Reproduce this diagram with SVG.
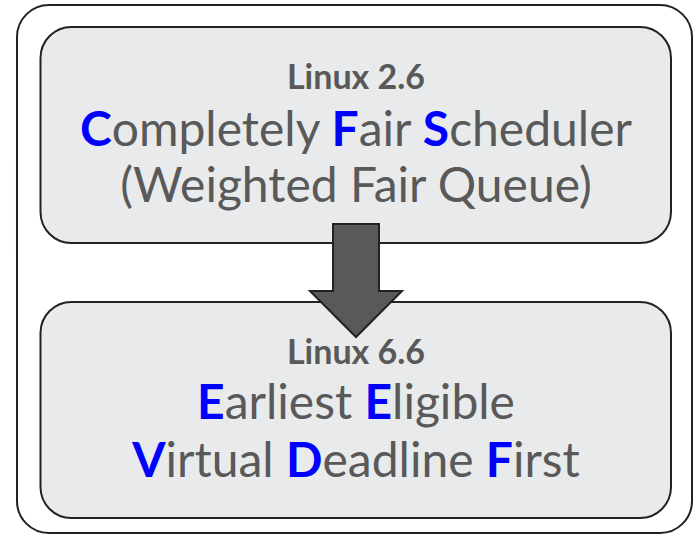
<svg xmlns="http://www.w3.org/2000/svg" width="695" height="536" viewBox="0 0 695 536">
<style>
.box{fill:#e8eaeb;stroke:#222;stroke-width:2}
.t{font-family:Lato,"Liberation Sans",sans-serif;fill:#595959;text-anchor:middle}
.h{font-size:34px;font-weight:bold}
.m{font-size:48px}
.b{fill:#0000ff;font-weight:bold}
</style>
<rect x="17" y="5" width="675" height="528" rx="32" fill="#fff" stroke="#222" stroke-width="2"/>
<g id="cfs">
<rect class="box" x="40.5" y="27" width="630.5" height="216" rx="31"/>
<text class="t h" x="356" y="89">Linux 2.6</text>
<text class="t m" x="356" y="146"><tspan class="b">C</tspan>ompletely <tspan class="b">F</tspan>air <tspan class="b">S</tspan>cheduler</text>
<text class="t m" x="356" y="202">(Weighted Fair Queue)</text>
</g>
<g id="eevdf">
<rect class="box" x="40.5" y="302" width="630.5" height="216" rx="31"/>
<text class="t h" x="356" y="364">Linux 6.6</text>
<text class="t m" x="356" y="419"><tspan class="b">E</tspan>arliest <tspan class="b">E</tspan>ligible</text>
<text class="t m" x="356" y="477"><tspan class="b">V</tspan>irtual <tspan class="b">D</tspan>eadline <tspan class="b">F</tspan>irst</text>
</g>
<g id="connectors">
<polygon points="333,224 379,224 379,291 402,291 356,337 310,291 333,291" fill="#595959" stroke="#222" stroke-width="2" stroke-linejoin="miter"/>
</g>
</svg>
